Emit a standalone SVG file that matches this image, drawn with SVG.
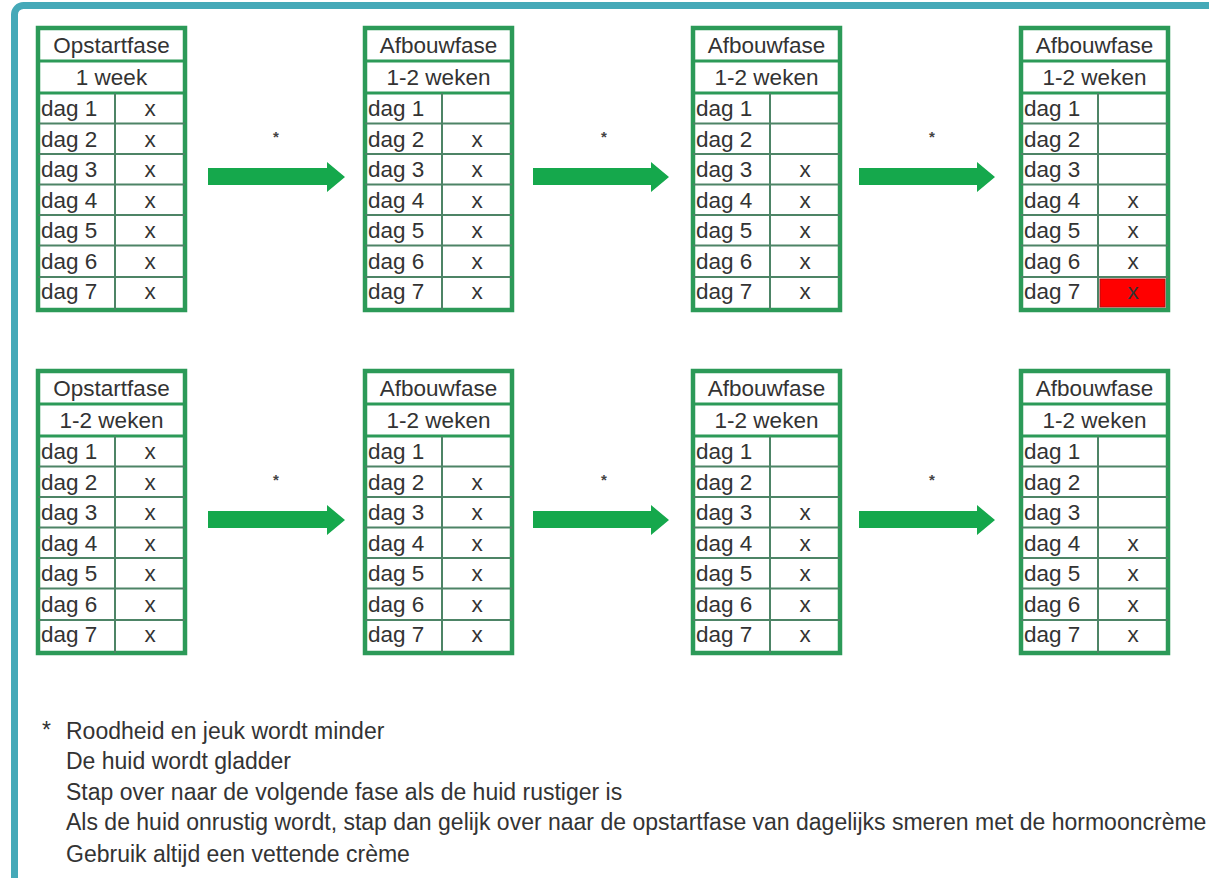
<svg xmlns="http://www.w3.org/2000/svg" width="1209" height="878" viewBox="0 0 1209 878">
<style>
.frame{fill:none;stroke:#45a9b8;stroke-width:7}
.outer{fill:#fff;stroke:#2c9a58;stroke-width:4.5}
.hl{stroke:#2c9a58;stroke-width:3}
.rl{stroke:#4d8466;stroke-width:2}
.t{font-family:"Liberation Sans",Arial,sans-serif;font-size:22.5px;fill:#333}
.c{text-anchor:middle}
.arrow{fill:#15a84c}
.star{font-family:"Liberation Sans",Arial,sans-serif;font-size:15px;font-weight:bold;fill:#444;text-anchor:middle}
.note{font-family:"Liberation Sans",Arial,sans-serif;font-size:23px;fill:#333}
</style>
<defs>
<g id="grid">
<rect class="outer" x="0" y="0" width="147" height="282"/>
<line class="hl" x1="0" y1="33" x2="147" y2="33"/>
<line class="hl" x1="0" y1="65" x2="147" y2="65"/>
<line class="rl" x1="0" y1="95.5" x2="147" y2="95.5"/>
<line class="rl" x1="0" y1="126" x2="147" y2="126"/>
<line class="rl" x1="0" y1="156.5" x2="147" y2="156.5"/>
<line class="rl" x1="0" y1="187" x2="147" y2="187"/>
<line class="rl" x1="0" y1="217.5" x2="147" y2="217.5"/>
<line class="rl" x1="0" y1="249" x2="147" y2="249"/>
<line class="rl" x1="77" y1="65" x2="77" y2="282"/>
</g>
<g id="days">
<text class="t" x="3" y="88">dag 1</text>
<text class="t" x="3" y="118.5">dag 2</text>
<text class="t" x="3" y="149">dag 3</text>
<text class="t" x="3" y="179.5">dag 4</text>
<text class="t" x="3" y="210">dag 5</text>
<text class="t" x="3" y="240.5">dag 6</text>
<text class="t" x="3" y="271">dag 7</text>
</g>
</defs>
<rect class="frame" x="14.5" y="5.5" width="1300" height="1000" rx="9"/>

<g id="top-1" transform="translate(38,28)">
<use href="#grid"/><use href="#days"/>
<text class="t c" x="73.5" y="25">Opstartfase</text>
<text class="t c" x="73.5" y="57">1 week</text>
<text class="t c" x="112" y="88">x</text><text class="t c" x="112" y="118.5">x</text><text class="t c" x="112" y="149">x</text><text class="t c" x="112" y="179.5">x</text><text class="t c" x="112" y="210">x</text><text class="t c" x="112" y="240.5">x</text><text class="t c" x="112" y="271">x</text>
</g>
<g id="top-2" transform="translate(365,28)">
<use href="#grid"/><use href="#days"/>
<text class="t c" x="73.5" y="25">Afbouwfase</text>
<text class="t c" x="73.5" y="57">1-2 weken</text>
<text class="t c" x="112" y="118.5">x</text><text class="t c" x="112" y="149">x</text><text class="t c" x="112" y="179.5">x</text><text class="t c" x="112" y="210">x</text><text class="t c" x="112" y="240.5">x</text><text class="t c" x="112" y="271">x</text>
</g>
<g id="top-3" transform="translate(693,28)">
<use href="#grid"/><use href="#days"/>
<text class="t c" x="73.5" y="25">Afbouwfase</text>
<text class="t c" x="73.5" y="57">1-2 weken</text>
<text class="t c" x="112" y="149">x</text><text class="t c" x="112" y="179.5">x</text><text class="t c" x="112" y="210">x</text><text class="t c" x="112" y="240.5">x</text><text class="t c" x="112" y="271">x</text>
</g>
<g id="top-4" transform="translate(1021,28)">
<use href="#grid"/>
<rect x="79" y="251" width="65" height="28" fill="#ff0000" stroke="#b01010" stroke-width="1"/>
<use href="#days"/>
<text class="t c" x="73.5" y="25">Afbouwfase</text>
<text class="t c" x="73.5" y="57">1-2 weken</text>
<text class="t c" x="112" y="179.5">x</text><text class="t c" x="112" y="210">x</text><text class="t c" x="112" y="240.5">x</text><text class="t c" x="112" y="271">x</text>
</g>

<g id="bottom-1" transform="translate(38,371)">
<use href="#grid"/><use href="#days"/>
<text class="t c" x="73.5" y="25">Opstartfase</text>
<text class="t c" x="73.5" y="57">1-2 weken</text>
<text class="t c" x="112" y="88">x</text><text class="t c" x="112" y="118.5">x</text><text class="t c" x="112" y="149">x</text><text class="t c" x="112" y="179.5">x</text><text class="t c" x="112" y="210">x</text><text class="t c" x="112" y="240.5">x</text><text class="t c" x="112" y="271">x</text>
</g>
<g id="bottom-2" transform="translate(365,371)">
<use href="#grid"/><use href="#days"/>
<text class="t c" x="73.5" y="25">Afbouwfase</text>
<text class="t c" x="73.5" y="57">1-2 weken</text>
<text class="t c" x="112" y="118.5">x</text><text class="t c" x="112" y="149">x</text><text class="t c" x="112" y="179.5">x</text><text class="t c" x="112" y="210">x</text><text class="t c" x="112" y="240.5">x</text><text class="t c" x="112" y="271">x</text>
</g>
<g id="bottom-3" transform="translate(693,371)">
<use href="#grid"/><use href="#days"/>
<text class="t c" x="73.5" y="25">Afbouwfase</text>
<text class="t c" x="73.5" y="57">1-2 weken</text>
<text class="t c" x="112" y="149">x</text><text class="t c" x="112" y="179.5">x</text><text class="t c" x="112" y="210">x</text><text class="t c" x="112" y="240.5">x</text><text class="t c" x="112" y="271">x</text>
</g>
<g id="bottom-4" transform="translate(1021,371)">
<use href="#grid"/><use href="#days"/>
<text class="t c" x="73.5" y="25">Afbouwfase</text>
<text class="t c" x="73.5" y="57">1-2 weken</text>
<text class="t c" x="112" y="179.5">x</text><text class="t c" x="112" y="210">x</text><text class="t c" x="112" y="240.5">x</text><text class="t c" x="112" y="271">x</text>
</g>

<g id="connectors">
<polygon class="arrow" points="208,168 327,168 327,162 345,177 327,192 327,185 208,185"/>
<polygon class="arrow" points="533,168 651,168 651,162 669,177 651,192 651,185 533,185"/>
<polygon class="arrow" points="859,168 977,168 977,162 995,177 977,192 977,185 859,185"/>
<polygon class="arrow" points="208,511 327,511 327,505 345,520 327,535 327,528 208,528"/>
<polygon class="arrow" points="533,511 651,511 651,505 669,520 651,535 651,528 533,528"/>
<polygon class="arrow" points="859,511 977,511 977,505 995,520 977,535 977,528 859,528"/>
<text class="star" x="276" y="142">*</text>
<text class="star" x="604" y="142">*</text>
<text class="star" x="932" y="142">*</text>
<text class="star" x="276" y="485">*</text>
<text class="star" x="604" y="485">*</text>
<text class="star" x="932" y="485">*</text>
</g>

<g id="footnote">
<text class="note" x="42" y="738" font-size="16px">*</text>
<text class="note" x="66" y="739">Roodheid en jeuk wordt minder</text>
<text class="note" x="66" y="769">De huid wordt gladder</text>
<text class="note" x="66" y="800">Stap over naar de volgende fase als de huid rustiger is</text>
<text class="note" x="66" y="830">Als de huid onrustig wordt, stap dan gelijk over naar de opstartfase van dagelijks smeren met de hormooncrème</text>
<text class="note" x="66" y="862">Gebruik altijd een vettende crème</text>
</g>
</svg>
